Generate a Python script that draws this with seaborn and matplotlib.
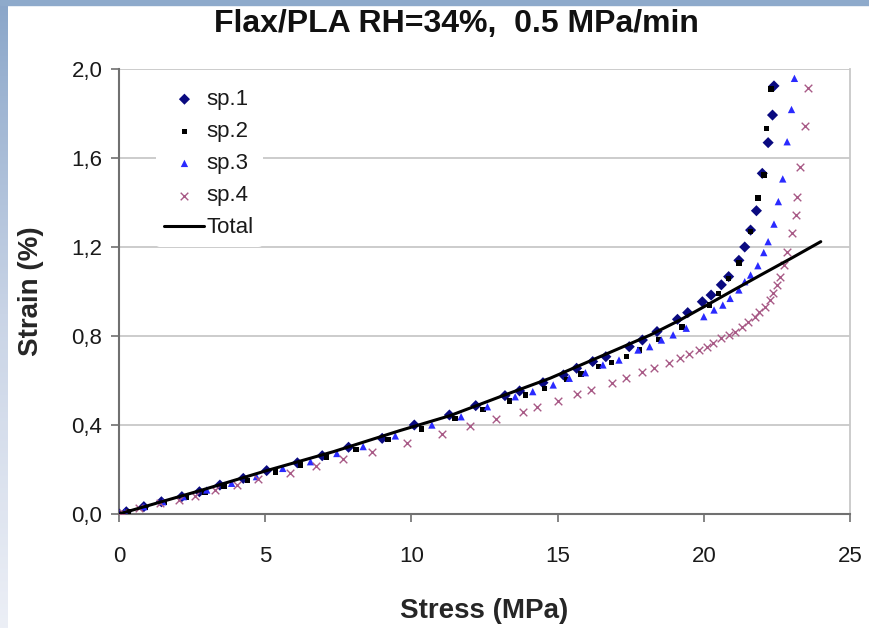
import numpy as np
import pandas as pd
import seaborn as sns
import matplotlib.pyplot as plt
from matplotlib.patches import Rectangle

# data (stress in MPa, strain in %)
sp1_stress = [0, 0.25, 0.85, 1.45, 2.15, 2.75, 3.45, 4.25, 5.05, 6.1, 6.95, 7.85, 9.0, 10.1,
              11.3, 12.2, 13.2, 13.7, 14.5, 15.2, 15.65, 16.2, 16.65, 17.45, 17.9, 18.4,
              19.1, 19.45, 19.95, 20.25, 20.6, 20.85, 21.2, 21.4, 21.6, 21.8, 22.0, 22.2,
              22.35, 22.4]
sp1_strain = [0, 0.01, 0.033, 0.055, 0.078, 0.10, 0.13, 0.16, 0.195, 0.23, 0.262, 0.30, 0.34,
              0.40, 0.445, 0.487, 0.532, 0.553, 0.59, 0.625, 0.655, 0.685, 0.707, 0.752,
              0.782, 0.82, 0.875, 0.905, 0.954, 0.984, 1.03, 1.067, 1.14, 1.2, 1.276, 1.363,
              1.531, 1.669, 1.793, 1.924]

sp2_stress = [0, 0.3, 0.9, 1.55, 2.3, 2.95, 3.6, 4.4, 5.35, 6.2, 7.1, 8.1, 9.2, 10.35, 11.5,
              12.45, 13.35, 13.9, 14.55, 15.3, 15.8, 16.4, 16.85, 17.35, 17.8, 18.45, 19.25,
              20.2, 20.5, 20.85, 21.2, 21.6, 21.85, 22.05, 22.15, 22.3]
sp2_strain = [0, 0.01, 0.03, 0.052, 0.075, 0.098, 0.123, 0.15, 0.19, 0.22, 0.256, 0.29, 0.334,
              0.381, 0.43, 0.47, 0.508, 0.535, 0.565, 0.605, 0.628, 0.662, 0.68, 0.707, 0.737,
              0.785, 0.84, 0.939, 0.992, 1.059, 1.127, 1.269, 1.419, 1.524, 1.733, 1.909]

sp3_stress = [0, 0.2, 0.85, 1.5, 2.2, 3.0, 3.85, 4.7, 5.6, 6.55, 7.45, 8.35, 9.45, 10.7, 11.7,
              12.6, 13.55, 14.15, 14.85, 15.4, 15.95, 16.55, 17.1, 17.75, 18.15, 18.55, 18.95,
              19.4, 20.0, 20.35, 20.65, 20.9, 21.2, 21.4, 21.6, 21.85, 22.05, 22.2, 22.4,
              22.55, 22.7, 22.85, 23.0, 23.1]
sp3_strain = [0, 0.01, 0.033, 0.055, 0.078, 0.108, 0.138, 0.168, 0.205, 0.235, 0.272, 0.303,
              0.351, 0.40, 0.437, 0.482, 0.527, 0.55, 0.58, 0.61, 0.635, 0.67, 0.692, 0.737,
              0.752, 0.782, 0.805, 0.835, 0.887, 0.917, 0.939, 0.969, 1.007, 1.044, 1.074,
              1.116, 1.175, 1.224, 1.303, 1.404, 1.506, 1.673, 1.818, 1.958]

sp4_stress = [0.0, 0.15, 0.7, 1.4, 2.05, 2.6, 3.3, 4.05, 4.75, 5.85, 6.75, 7.65, 8.65, 9.85,
              11.05, 12.0, 12.9, 13.8, 14.3, 15.0, 15.65, 16.15, 16.85, 17.35, 17.9, 18.3,
              18.8, 19.2, 19.5, 19.85, 20.1, 20.3, 20.6, 20.85, 21.05, 21.3, 21.5, 21.75,
              21.9, 22.1, 22.25, 22.35, 22.5, 22.6, 22.75, 22.85, 23.0, 23.15, 23.2, 23.3,
              23.45, 23.55]
sp4_strain = [0.0, 0.005, 0.027, 0.05, 0.063, 0.08, 0.108, 0.13, 0.157, 0.184, 0.216, 0.247,
              0.279, 0.319, 0.36, 0.396, 0.427, 0.458, 0.481, 0.508, 0.539, 0.557, 0.589,
              0.611, 0.638, 0.655, 0.678, 0.70, 0.72, 0.737, 0.75, 0.768, 0.79, 0.804, 0.818,
              0.84, 0.863, 0.885, 0.908, 0.93, 0.962, 0.993, 1.03, 1.065, 1.12, 1.178, 1.263,
              1.344, 1.425, 1.56, 1.745, 1.915]

total_stress = [0, 2.77, 5.05, 7.33, 9.61, 11.32, 13.03, 14.74, 16.45, 18.16, 19.19, 20.0,
                21.0, 22.0, 23.0, 24.0]
total_strain = [0, 0.105, 0.195, 0.28, 0.375, 0.442, 0.527, 0.61, 0.707, 0.804, 0.872, 0.931,
                1.005, 1.078, 1.15, 1.224]

y_ticks = [0.0, 0.4, 0.8, 1.2, 1.6, 2.0]
y_ticklabels = ['0,0', '0,4', '0,8', '1,2', '1,6', '2,0']
x_ticks = [0, 5, 10, 15, 20, 25]

sns.set_style('white')
plt.rcParams['font.family'] = ['Liberation Sans', 'DejaVu Sans']

fig = plt.figure(figsize=(8.69, 6.28), dpi=100)
ax = fig.add_axes([119 / 869, 1 - 514 / 628, 731 / 869, 445 / 628])

for y in y_ticks[1:]:
    ax.axhline(y, color='#c8c8c8', lw=1.3, zorder=0)

series = [
    ('sp.1', sp1_stress, sp1_strain, 'D', '#0a0a80', 32),
    ('sp.2', sp2_stress, sp2_strain, 's', '#000000', 16),
    ('sp.3', sp3_stress, sp3_strain, '^', '#2a2aff', 28),
    ('sp.4', sp4_stress, sp4_strain, 'x', '#a85a86', 30),
]
for name, xs, ys, mk, col, sz in series:
    df = pd.DataFrame({'stress': xs, 'strain': ys})
    sns.scatterplot(data=df, x='stress', y='strain', ax=ax, marker=mk, color=col, s=sz,
                    linewidth=1.0 if mk == 'x' else 0, edgecolor=col if mk == 'x' else 'none',
                    label=name, zorder=3)

tdf = pd.DataFrame({'stress': total_stress, 'strain': total_strain})
sns.lineplot(data=tdf, x='stress', y='strain', ax=ax, color='black', lw=2.2, label='Total',
             zorder=4)

ax.set_xlim(0, 25)
ax.set_ylim(0, 2.0)
ax.set_xticks(x_ticks)
ax.set_xticklabels([str(v) for v in x_ticks], fontsize=16, color='#1a1a1a')
ax.set_yticks(y_ticks)
ax.set_yticklabels(y_ticklabels, fontsize=16, color='#1a1a1a')
ax.tick_params(axis='both', direction='out', length=6, width=1.2, color='#707070',
               bottom=True, left=True)
ax.tick_params(axis='x', pad=17)
ax.tick_params(axis='y', pad=6)

for side in ['left', 'bottom']:
    ax.spines[side].set_color('#707070')
    ax.spines[side].set_linewidth(1.5)
ax.spines['top'].set_visible(False)
ax.spines['right'].set_color('#c8c8c8')
ax.spines['right'].set_linewidth(1.3)

ax.set_xlabel('Stress (MPa)', fontsize=20, fontweight='bold', labelpad=22)
ax.set_ylabel('Strain (%)', fontsize=20, fontweight='bold', labelpad=20)

leg = ax.legend(loc='upper left', bbox_to_anchor=(0.05, 0.975), frameon=True, fontsize=16,
                handlelength=1.8, handletextpad=0.1, labelspacing=0.5, borderpad=0.4,
                borderaxespad=0)
leg.get_frame().set_facecolor('white')
leg.get_frame().set_edgecolor('none')
leg.get_frame().set_alpha(1)
for t in leg.get_texts():
    t.set_color('#1a1a1a')

fig.text(456 / 869, 1 - 24 / 628, 'Flax/PLA RH=34%,  0.5 MPa/min', ha='center', va='center',
         fontsize=23, fontweight='bold', color='#111111')

# blue slide frame on top and left edges
fig.patches.append(Rectangle((0, 1 - 5 / 628), 1, 5 / 628, transform=fig.transFigure,
                             color='#8eaacb', zorder=0))
strip = fig.add_axes([0, 0, 7 / 869, 1])
grad = np.linspace(0, 1, 256).reshape(-1, 1)
strip.imshow(grad, aspect='auto', cmap=sns.blend_palette(['#8aa6c9', '#c9d4e6', '#eceff6'],
                                                          as_cmap=True))
strip.axis('off')

fig.savefig('out.png', dpi=100)
